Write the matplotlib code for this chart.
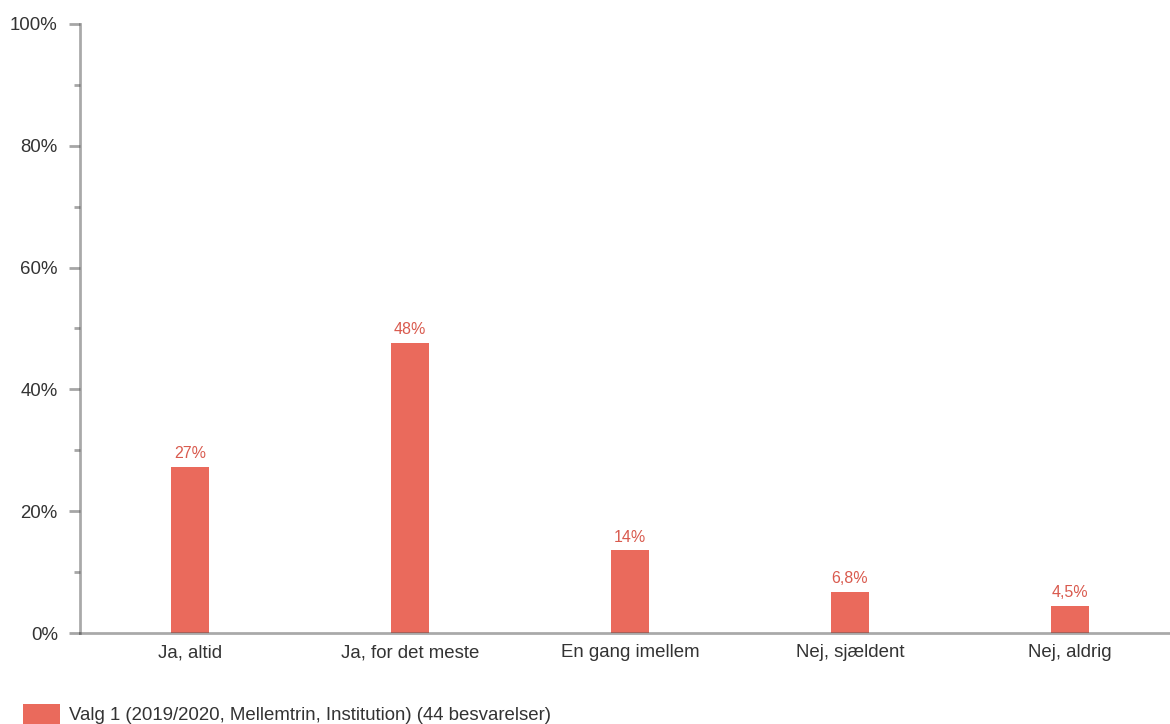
import matplotlib.pyplot as plt
from matplotlib.ticker import MultipleLocator, FuncFormatter

plt.rcParams['font.family'] = ['Liberation Sans', 'DejaVu Sans']

# survey answers (share of 44 responses, in %)
categories = ['Ja, altid', 'Ja, for det meste', 'En gang imellem', 'Nej, sjældent', 'Nej, aldrig']
values = [27.3, 47.7, 13.6, 6.8, 4.5]
value_labels = ['27%', '48%', '14%', '6,8%', '4,5%']
series_name = 'Valg 1 (2019/2020, Mellemtrin, Institution) (44 besvarelser)'

bar_color = '#EA6A5C'
label_color = '#D95A4E'
axis_color = '#A6A6A6'
text_color = '#333333'

W, H = 1170, 724
fig = plt.figure(figsize=(W/100, H/100), dpi=100)
ax = fig.add_axes([80/W, (H-633)/H, 1100/W, 609/H])

x = range(len(categories))
bars = ax.bar(x, values, width=0.177, color=bar_color, zorder=2, label=series_name)
for b, lab in zip(bars, value_labels):
     ax.annotate(lab, (b.get_x() + b.get_width()/2, b.get_height()),
                 xytext=(0, 4), textcoords='offset points',
                 ha='center', va='bottom', fontsize=11.5, color=label_color)

ax.set_xlim(-0.5, len(categories) - 0.5)
ax.set_ylim(0, 100)
ax.set_xticks(list(x))
ax.set_xticklabels(categories)
ax.yaxis.set_major_locator(MultipleLocator(20))
ax.yaxis.set_minor_locator(MultipleLocator(10))
ax.yaxis.set_major_formatter(FuncFormatter(lambda v, p: '%d%%' % v))

for s in ['top', 'right']:
     ax.spines[s].set_visible(False)
for s in ['left', 'bottom']:
     ax.spines[s].set_color('#555555')
     ax.spines[s].set_alpha(0.5)
     ax.spines[s].set_linewidth(2)
     ax.spines[s].set_zorder(3)

ax.tick_params(axis='y', which='major', length=8, width=2, color=axis_color,
               labelsize=13.4, labelcolor=text_color, pad=8)
ax.tick_params(axis='y', which='minor', length=4, width=2, color=axis_color)
ax.tick_params(axis='x', length=0, labelsize=13.4, labelcolor=text_color, pad=8)

fig.legend(loc='lower left', bbox_to_anchor=(23/W, 0), frameon=False,
           borderpad=0, borderaxespad=0,
           fontsize=13.4, labelcolor=text_color, handlelength=2.0,
           handleheight=1.3, handletextpad=0.45)

plt.savefig('out.png', dpi=100)
